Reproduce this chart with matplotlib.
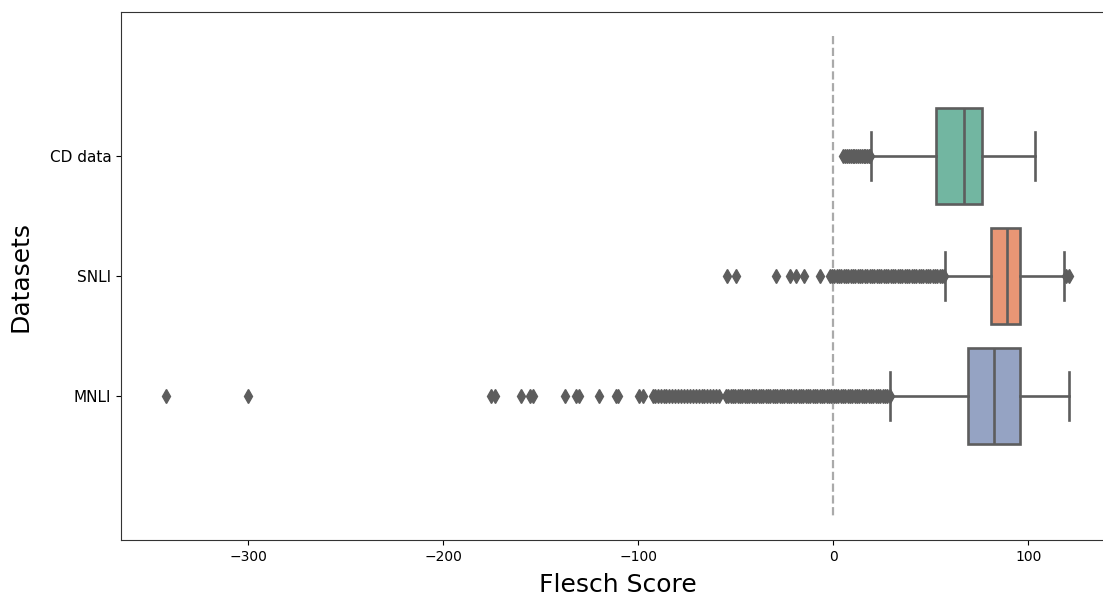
import matplotlib.pyplot as plt
import seaborn as sns

# box statistics (Flesch score)
datasets = ["CD data", "SNLI", "MNLI"]
q1 = [52.7, 80.9, 69.1]
medians = [66.9, 89.1, 82.4]
q3 = [76.3, 95.9, 95.9]
whisker_low = [19.3, 57.3, 29.2]
whisker_high = [103.3, 118.1, 120.7]

cd_fliers = [5.2, 6.2, 7.1, 8.0, 9.0, 10.0, 10.9, 11.8, 12.8, 13.7, 14.6,
             15.6, 16.5, 17.4, 18.3, 19.0]
snli_fliers = [-54.5, -50.0, -29.5, -22.0, -19.0, -15.0, -7.0, -1.8, -0.6,
               0.6, 1.8, 3.0, 4.2, 5.4, 6.6, 7.8, 9.0, 10.2, 11.4, 12.6, 13.8,
               15.0, 16.2, 17.4, 18.6, 19.8, 21.0, 22.2, 23.4, 24.6, 25.8,
               27.0, 28.2, 29.4, 30.6, 31.8, 33.0, 34.2, 35.4, 36.6, 37.8,
               39.0, 40.2, 41.4, 42.6, 43.8, 45.0, 46.2, 47.4, 48.6, 49.8,
               51.0, 52.2, 53.4, 54.6, 55.8, 57.0, 119.5, 120.8]
mnli_fliers = [-342.0, -300.0, -175.5, -173.5, -160.0, -155.5, -154.0,
               -137.5, -132.0, -130.5, -120.0, -111.5, -110.5, -99.5, -97.5,
               -92.5, -91.5, -90.0, -88.5, -87.0, -85.5, -84.0, -82.5, -81.0,
               -79.5, -78.0, -76.5, -75.0, -73.5, -72.0, -70.5, -69.0, -67.5,
               -66.0, -64.5, -63.0, -61.5, -60.0, -58.5, -55.0, -53.8, -52.6,
               -51.4, -50.2, -49.0, -47.8, -46.6, -45.4, -44.2, -43.0, -41.8,
               -40.6, -39.4, -38.2, -37.0, -35.8, -34.6, -33.4, -32.2, -31.0,
               -29.8, -28.6, -27.4, -26.2, -25.0, -23.8, -22.6, -21.4, -20.2,
               -19.0, -17.8, -16.6, -15.4, -14.2, -13.0, -11.8, -10.6, -9.4,
               -8.2, -7.0, -5.8, -4.6, -3.4, -2.2, -1.0, 0.2, 1.4, 2.6, 3.8,
               5.0, 6.2, 7.4, 8.6, 9.8, 11.0, 12.2, 13.4, 14.6, 15.8, 17.0,
               18.2, 19.4, 20.6, 21.8, 23.0, 24.2, 25.4, 26.6, 27.8, 29.0]
fliers = [cd_fliers, snli_fliers, mnli_fliers]

colors = sns.color_palette("Set2", 3, desat=0.75)
gray = "#5d5d5d"

stats = []
for i, name in enumerate(datasets):
    stats.append({"label": name, "q1": q1[i], "med": medians[i], "q3": q3[i],
                  "whislo": whisker_low[i], "whishi": whisker_high[i],
                  "fliers": fliers[i]})

fig = plt.figure(figsize=(11.03, 5.97), dpi=100)
ax = fig.add_axes([121 / 1103, 57 / 597, 993 / 1103, 528 / 597])

bp = ax.bxp(stats, positions=range(len(datasets)), widths=0.8, vert=False,
            patch_artist=True, capwidths=0.4,
            boxprops=dict(edgecolor=gray, linewidth=1.9),
            whiskerprops=dict(color=gray, linewidth=1.9),
            capprops=dict(color=gray, linewidth=1.9),
            medianprops=dict(color=gray, linewidth=1.9),
            flierprops=dict(marker="d", markerfacecolor=gray,
                            markeredgecolor=gray, markersize=7.5,
                            linestyle="none"))
for patch, c in zip(bp["boxes"], colors):
    patch.set_facecolor(c)

ax.vlines(0, -1, 3, colors="#aaaaaa", linestyles="--", linewidth=1.6,
          zorder=0)
ax.set_ylim(3.2, -1.2)
ax.set_xticks([-300, -200, -100, 0, 100])
ax.tick_params(axis="x", labelsize=10)
ax.tick_params(axis="y", labelsize=11)
ax.set_xlabel("Flesch Score", fontsize=18, labelpad=7)
ax.set_ylabel("Datasets", fontsize=18, labelpad=12)
for s in ax.spines.values():
    s.set_color("#333333")

fig.savefig("out.png", dpi=100)
